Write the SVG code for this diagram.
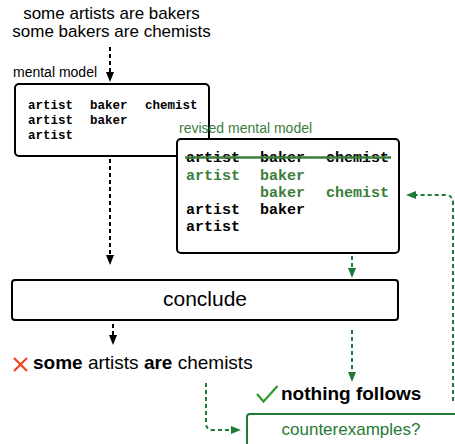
<svg xmlns="http://www.w3.org/2000/svg" width="455" height="444" viewBox="0 0 455 444">
<style>
.sans{font-family:"Liberation Sans",Arial,sans-serif;}
.mono{font-family:"Liberation Mono","Courier New",monospace;font-weight:bold;}
.box{fill:#fff;stroke:#000;stroke-width:2;}
.gbox{fill:#fff;stroke:#1f7a35;stroke-width:2;}
.blk{fill:none;stroke:#000;stroke-width:2;stroke-dasharray:4,3;}
.grn{fill:none;stroke:#1f7a35;stroke-width:2;stroke-dasharray:4,3;}
.gt{fill:#3b7d3b;}
</style>
<defs>
<marker id="ab" markerUnits="userSpaceOnUse" markerWidth="10" markerHeight="8" refX="0" refY="4" orient="auto">
<path d="M0,0 L10,4 L0,8 z" fill="#000"/>
</marker>
<marker id="ag" markerUnits="userSpaceOnUse" markerWidth="10" markerHeight="8" refX="0" refY="4" orient="auto">
<path d="M0,0 L10,4 L0,8 z" fill="#1f7a35"/>
</marker>
</defs>

<g id="premises">
<text class="sans" x="111.5" y="19" font-size="17" text-anchor="middle">some artists are bakers</text>
<text class="sans" x="111.5" y="37" font-size="17" text-anchor="middle">some bakers are chemists</text>
</g>

<g id="mental-model">
<text class="sans" x="13" y="77" font-size="14">mental model</text>
<rect class="box" x="15" y="84" width="194" height="72" rx="4"/>
<g class="mono" font-size="12.5">
<text x="28" y="109">artist</text><text x="90" y="109">baker</text><text x="145" y="109">chemist</text>
<text x="28" y="124">artist</text><text x="90" y="124">baker</text>
<text x="28" y="138.5">artist</text>
</g>
</g>

<g id="revised-mental-model">
<text class="sans gt" x="179" y="133" font-size="14">revised mental model</text>
<rect class="box" x="177" y="139" width="222" height="114" rx="4"/>
<g class="mono" font-size="15">
<text x="186" y="162">artist</text><text x="260" y="162">baker</text><text x="326" y="162">chemist</text>
<text class="gt" x="186" y="179.5">artist</text><text class="gt" x="260" y="179.5">baker</text>
<text class="gt" x="260" y="197">baker</text><text class="gt" x="326" y="197">chemist</text>
<text x="186" y="214">artist</text><text x="260" y="214">baker</text>
<text x="186" y="231">artist</text>
</g>
<line x1="185" y1="157.5" x2="391" y2="157.5" stroke="#3b7d3b" stroke-width="2.5"/>
</g>

<g id="conclude">
<rect class="box" x="12" y="280" width="386" height="40" rx="3"/>
<text class="sans" x="205" y="306" font-size="21" text-anchor="middle">conclude</text>
</g>

<g id="wrong-conclusion">
<path d="M14,358 L27,371 M27,358 L14,371" stroke="#f4401e" stroke-width="2.2" fill="none"/>
<text class="sans" x="33" y="369" font-size="19"><tspan font-weight="bold">some</tspan> artists <tspan font-weight="bold">are</tspan> chemists</text>
</g>

<g id="nothing-follows">
<polyline points="257,394 263.5,401.5 277.5,386" fill="none" stroke="#2a9d2a" stroke-width="2.2"/>
<text class="sans" x="281" y="399.5" font-size="19" font-weight="bold">nothing follows</text>
</g>

<g id="counterexamples">
<rect class="gbox" x="247" y="414" width="230" height="50" rx="3"/>
<text class="sans" x="351" y="435" font-size="17" fill="#1f7a35" text-anchor="middle">counterexamples?</text>
</g>

<g id="connectors">
<path class="blk" d="M110,47 V72" marker-end="url(#ab)"/>
<path class="blk" d="M110,159 V255" marker-end="url(#ab)"/>
<path class="blk" d="M113,324 V335" marker-end="url(#ab)"/>
<path class="grn" d="M352,256 V268" marker-end="url(#ag)"/>
<path class="grn" d="M352,330 V372" marker-end="url(#ag)"/>
<path class="grn" d="M206,383 V423 Q206,430 213,430 H231" marker-end="url(#ag)"/>
<path class="grn" d="M453,401 V203 Q453,195 445,195 H416" marker-end="url(#ag)"/>
</g>
</svg>
